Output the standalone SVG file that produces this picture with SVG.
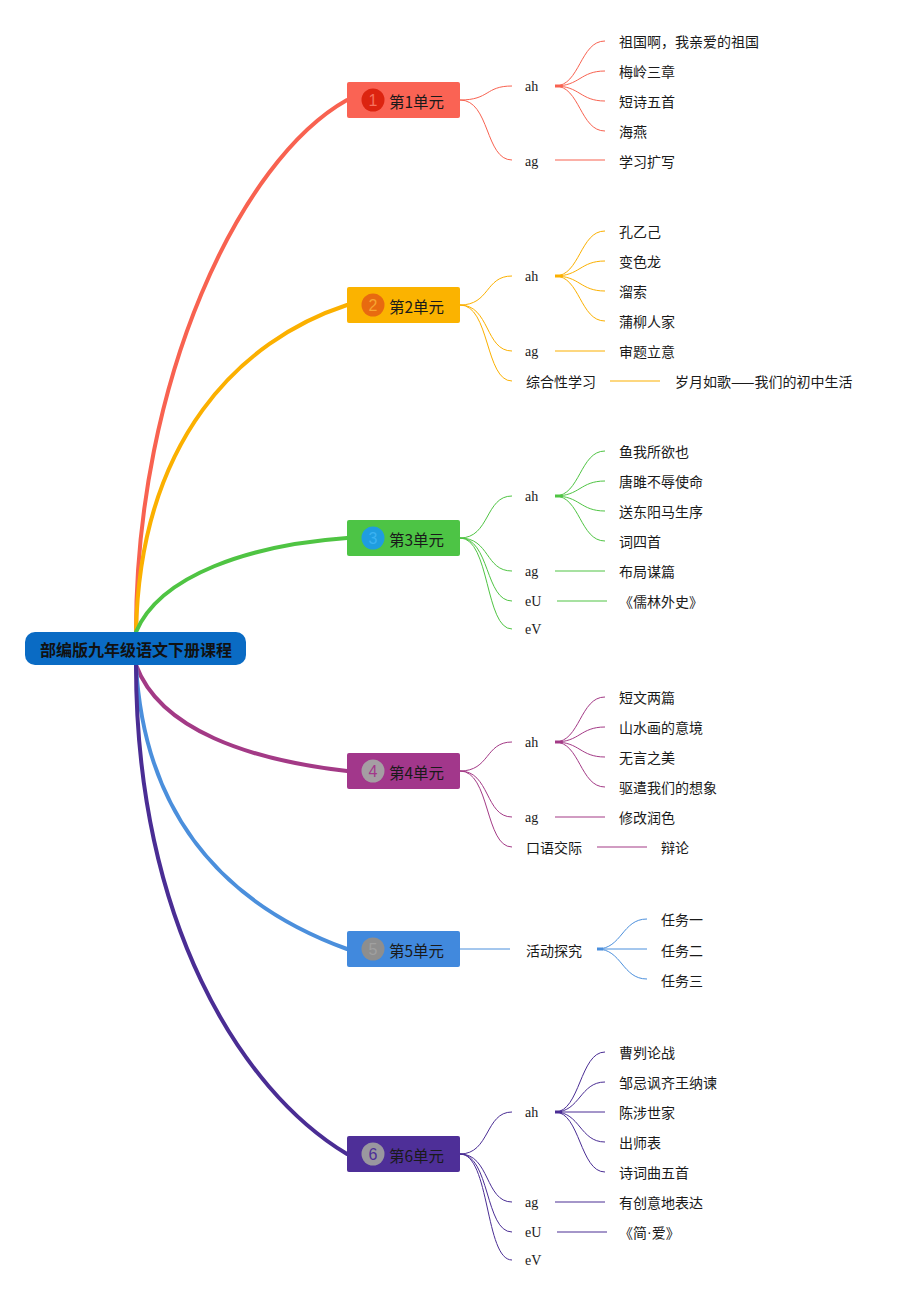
<svg xmlns="http://www.w3.org/2000/svg" width="917" height="1297" viewBox="0 0 917 1297">
<style>
  .t { font-family: "Noto Sans CJK SC", "Noto Sans", sans-serif; font-size: 14px; fill: #1a1a1a; dominant-baseline: central; }
  .s { font-family: "Liberation Serif", serif; font-size: 14px; fill: #1a1a1a; dominant-baseline: central; }
  .u { font-family: "Noto Sans CJK SC", "Noto Sans", sans-serif; font-size: 15.5px; fill: #1a1a1a; dominant-baseline: central; }
  .n { font-family: "Liberation Sans", sans-serif; font-size: 16px; text-anchor: middle; dominant-baseline: central; }
  .root { font-family: "Noto Sans CJK SC", sans-serif; font-size: 16px; font-weight: bold; fill: #111; text-anchor: middle; dominant-baseline: central; }
  .m { fill: none; stroke-width: 4; stroke-linecap: round; }
  .c { fill: none; stroke-width: 1; }
  .h { fill: none; stroke-width: 2; stroke-opacity: 0.5; }
  .d { fill: none; stroke-width: 3; }
</style>
<rect width="917" height="1297" fill="#ffffff"/>

<g id="connectors">
  <!-- main branches -->
  <path class="m" stroke="#f86250" d="M136,632 C136,380 240,160 347,100"/>
  <path class="m" stroke="#fbb000" d="M136,632 C140,440 240,340 347,305"/>
  <path class="m" stroke="#4fc443" d="M136,632 C160,575 250,545 347,538"/>
  <path class="m" stroke="#a33a86" d="M136,665 C160,730 250,760 347,771"/>
  <path class="m" stroke="#4b8fdc" d="M136,665 C145,830 240,910 347,949"/>
  <path class="m" stroke="#4a2d94" d="M136,665 C136,920 240,1090 347,1154"/>

  <!-- unit 1 -->
  <g stroke="#f86250">
    <path class="c" d="M460,100 C490,100 485,86 512,86"/>
    <path class="c" d="M460,100 C490,100 485,160 512,160"/>
    <path class="c" d="M555,86 C580,86 580,41 605,41"/>
    <path class="c" d="M555,86 C580,86 580,71 605,71"/>
    <path class="c" d="M555,86 C580,86 580,101 605,101"/>
    <path class="c" d="M555,86 C580,86 580,131 605,131"/>
    <path class="d" d="M555,86 L562,86"/>
    <path class="h" d="M555,160 L605,160"/>
  </g>
  <!-- unit 2 -->
  <g stroke="#fbb000">
    <path class="c" d="M460,305 C490,305 485,276 512,276"/>
    <path class="c" d="M460,305 C490,305 485,351 512,351"/>
    <path class="c" d="M460,305 C490,305 485,381 512,381"/>
    <path class="c" d="M555,276 C580,276 580,231 605,231"/>
    <path class="c" d="M555,276 C580,276 580,261 605,261"/>
    <path class="c" d="M555,276 C580,276 580,291 605,291"/>
    <path class="c" d="M555,276 C580,276 580,321 605,321"/>
    <path class="d" d="M555,276 L562,276"/>
    <path class="h" d="M555,351 L605,351"/>
    <path class="h" d="M610,381 L660,381"/>
  </g>
  <!-- unit 3 -->
  <g stroke="#4fc443">
    <path class="c" d="M460,538 C490,538 485,496 512,496"/>
    <path class="c" d="M460,538 C490,538 485,571 512,571"/>
    <path class="c" d="M460,538 C490,538 485,601 512,601"/>
    <path class="c" d="M460,538 C490,538 485,629 512,629"/>
    <path class="c" d="M555,496 C580,496 580,451 605,451"/>
    <path class="c" d="M555,496 C580,496 580,481 605,481"/>
    <path class="c" d="M555,496 C580,496 580,511 605,511"/>
    <path class="c" d="M555,496 C580,496 580,541 605,541"/>
    <path class="d" d="M555,496 L562,496"/>
    <path class="h" d="M555,571 L605,571"/>
    <path class="h" d="M557,601 L607,601"/>
  </g>
  <!-- unit 4 -->
  <g stroke="#a33a86">
    <path class="c" d="M460,771 C490,771 485,742 512,742"/>
    <path class="c" d="M460,771 C490,771 485,817 512,817"/>
    <path class="c" d="M460,771 C490,771 485,847 512,847"/>
    <path class="c" d="M555,742 C580,742 580,697 605,697"/>
    <path class="c" d="M555,742 C580,742 580,727 605,727"/>
    <path class="c" d="M555,742 C580,742 580,757 605,757"/>
    <path class="c" d="M555,742 C580,742 580,787 605,787"/>
    <path class="d" d="M555,742 L562,742"/>
    <path class="h" d="M555,817 L605,817"/>
    <path class="h" d="M597,847 L647,847"/>
  </g>
  <!-- unit 5 -->
  <g stroke="#4b8fdc">
    <path class="c" d="M460,949 L510,949"/>
    <path class="c" d="M597,949 C622,949 622,919 647,919"/>
    <path class="c" d="M597,949 L647,949"/>
    <path class="c" d="M597,949 C622,949 622,979 647,979"/>
    <path class="d" d="M597,949 L603,949"/>
  </g>
  <!-- unit 6 -->
  <g stroke="#4a2d94">
    <path class="c" d="M460,1154 C490,1154 485,1112 512,1112"/>
    <path class="c" d="M460,1154 C490,1154 485,1202 512,1202"/>
    <path class="c" d="M460,1154 C490,1154 485,1232 512,1232"/>
    <path class="c" d="M460,1154 C490,1154 485,1260 512,1260"/>
    <path class="c" d="M555,1112 C580,1112 580,1052 605,1052"/>
    <path class="c" d="M555,1112 C580,1112 580,1082 605,1082"/>
    <path class="c" d="M555,1112 L605,1112"/>
    <path class="c" d="M555,1112 C580,1112 580,1142 605,1142"/>
    <path class="c" d="M555,1112 C580,1112 580,1172 605,1172"/>
    <path class="d" d="M555,1112 L562,1112"/>
    <path class="h" d="M555,1202 L605,1202"/>
    <path class="h" d="M557,1232 L607,1232"/>
  </g>
</g>

<g id="root">
  <rect x="25" y="632" width="221" height="33" rx="10" fill="#0a6bc4"/>
  <text class="root" x="136" y="649">部编版九年级语文下册课程</text>
</g>

<g id="unit1">
  <rect x="347" y="82" width="113" height="36" rx="2" fill="#fa6354"/>
  <circle cx="373" cy="100" r="11.5" fill="#dc2410"/>
  <text class="n" x="373" y="100" fill="#f6735f">1</text>
  <text class="u" x="389" y="101">第1单元</text>
</g>
<g id="unit2">
  <rect x="347" y="287" width="113" height="36" rx="2" fill="#fbb300"/>
  <circle cx="373" cy="305" r="11.5" fill="#e86a10"/>
  <text class="n" x="373" y="305" fill="#f7a530">2</text>
  <text class="u" x="389" y="306">第2单元</text>
</g>
<g id="unit3">
  <rect x="347" y="520" width="113" height="36" rx="2" fill="#4dc445"/>
  <circle cx="373" cy="538" r="11.5" fill="#1f9de0"/>
  <text class="n" x="373" y="538" fill="#3bb2f2">3</text>
  <text class="u" x="389" y="539">第3单元</text>
</g>
<g id="unit4">
  <rect x="347" y="753" width="113" height="36" rx="2" fill="#a2378b"/>
  <circle cx="373" cy="771" r="11.5" fill="#a59ea3"/>
  <text class="n" x="373" y="771" fill="#a2378b">4</text>
  <text class="u" x="389" y="772">第4单元</text>
</g>
<g id="unit5">
  <rect x="347" y="931" width="113" height="36" rx="2" fill="#4189dd"/>
  <circle cx="373" cy="949" r="11.5" fill="#8e8e8e"/>
  <text class="n" x="373" y="949" fill="#a0a0a0">5</text>
  <text class="u" x="389" y="950">第5单元</text>
</g>
<g id="unit6">
  <rect x="347" y="1136" width="113" height="36" rx="2" fill="#4e2f98"/>
  <circle cx="373" cy="1154" r="11.5" fill="#9a979f"/>
  <text class="n" x="373" y="1154" fill="#4e2f98">6</text>
  <text class="u" x="389" y="1155">第6单元</text>
</g>

<g id="unit1-items">
  <text class="s" x="525" y="86">ah</text>
  <text class="s" x="525" y="161">ag</text>
  <text class="t" x="619" y="41">祖国啊，我亲爱的祖国</text>
  <text class="t" x="619" y="71">梅岭三章</text>
  <text class="t" x="619" y="101">短诗五首</text>
  <text class="t" x="619" y="131">海燕</text>
  <text class="t" x="619" y="161">学习扩写</text>
</g>
<g id="unit2-items">
  <text class="s" x="525" y="276">ah</text>
  <text class="s" x="525" y="351">ag</text>
  <text class="t" x="526" y="381">综合性学习</text>
  <text class="t" x="619" y="231">孔乙己</text>
  <text class="t" x="619" y="261">变色龙</text>
  <text class="t" x="619" y="291">溜索</text>
  <text class="t" x="619" y="321">蒲柳人家</text>
  <text class="t" x="619" y="351">审题立意</text>
  <text class="t" x="675" y="381">岁月如歌——我们的初中生活</text>
</g>
<g id="unit3-items">
  <text class="s" x="525" y="496">ah</text>
  <text class="s" x="525" y="571">ag</text>
  <text class="s" x="525" y="601">eU</text>
  <text class="s" x="525" y="629">eV</text>
  <text class="t" x="619" y="451">鱼我所欲也</text>
  <text class="t" x="619" y="481">唐雎不辱使命</text>
  <text class="t" x="619" y="511">送东阳马生序</text>
  <text class="t" x="619" y="541">词四首</text>
  <text class="t" x="619" y="571">布局谋篇</text>
  <text class="t" x="619" y="601">《儒林外史》</text>
</g>
<g id="unit4-items">
  <text class="s" x="525" y="742">ah</text>
  <text class="s" x="525" y="817">ag</text>
  <text class="t" x="526" y="847">口语交际</text>
  <text class="t" x="619" y="697">短文两篇</text>
  <text class="t" x="619" y="727">山水画的意境</text>
  <text class="t" x="619" y="757">无言之美</text>
  <text class="t" x="619" y="787">驱遣我们的想象</text>
  <text class="t" x="619" y="817">修改润色</text>
  <text class="t" x="661" y="847">辩论</text>
</g>
<g id="unit5-items">
  <text class="t" x="526" y="950">活动探究</text>
  <text class="t" x="661" y="919">任务一</text>
  <text class="t" x="661" y="950">任务二</text>
  <text class="t" x="661" y="980">任务三</text>
</g>
<g id="unit6-items">
  <text class="s" x="525" y="1112">ah</text>
  <text class="s" x="525" y="1202">ag</text>
  <text class="s" x="525" y="1232">eU</text>
  <text class="s" x="525" y="1260">eV</text>
  <text class="t" x="619" y="1052">曹刿论战</text>
  <text class="t" x="619" y="1082">邹忌讽齐王纳谏</text>
  <text class="t" x="619" y="1112">陈涉世家</text>
  <text class="t" x="619" y="1142">出师表</text>
  <text class="t" x="619" y="1172">诗词曲五首</text>
  <text class="t" x="619" y="1202">有创意地表达</text>
  <text class="t" x="619" y="1232">《简<tspan font-family="Liberation Sans">·</tspan>爱》</text>
</g>
</svg>
